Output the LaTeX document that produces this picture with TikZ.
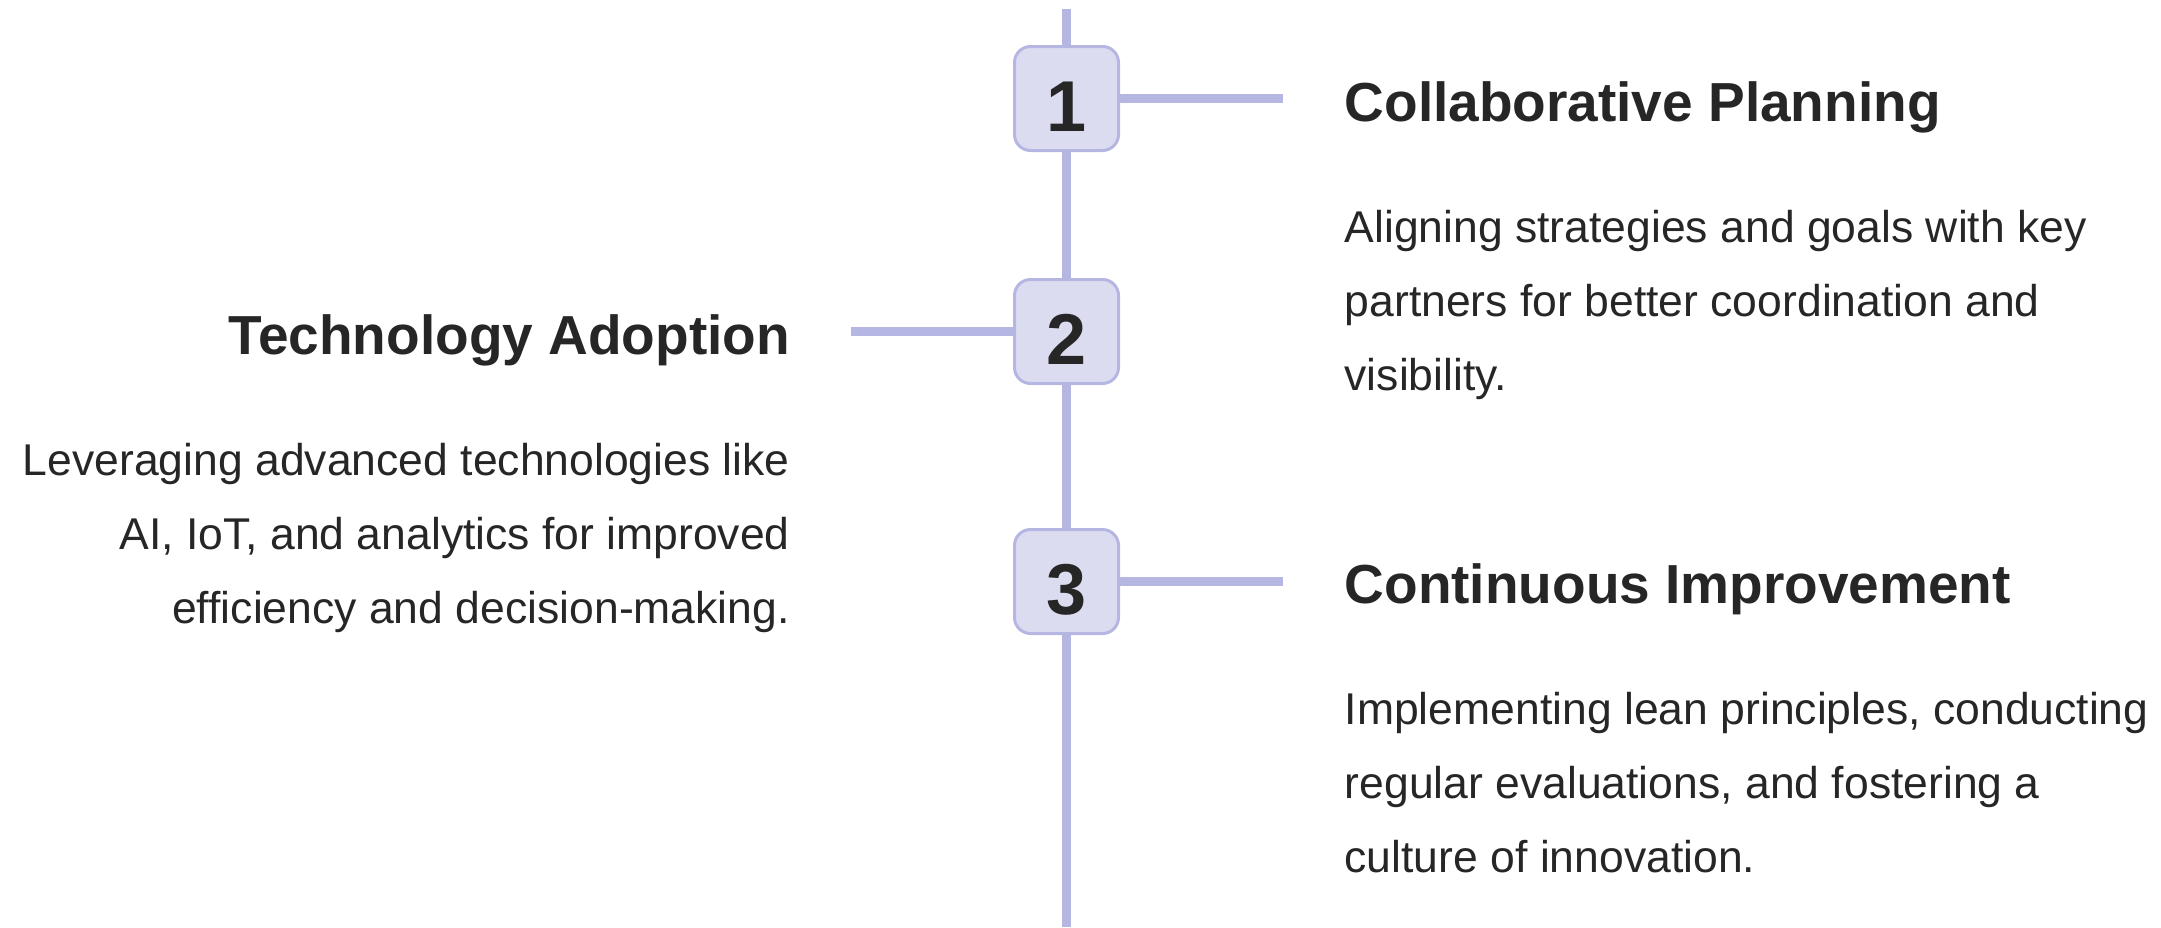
\documentclass[tikz,border=0pt]{standalone}
\usepackage{fontspec}
\setmainfont{Liberation Sans}
\usepackage{tikz}

\definecolor{stemline}{HTML}{B5B7E2}
\definecolor{stepfill}{HTML}{DCDCF1}
\definecolor{inktext}{HTML}{262626}

\tikzset{
    numbox/.style = {draw = stemline, fill = stepfill, line width = 3pt, rounded corners = 16pt, minimum size = 104pt, inner sep = 0pt, text = inktext, text height = 65.5pt, text depth = 0pt, font = \fontsize{72}{72}\selectfont\bfseries},
    heading/.style = {inner sep = 0pt, text = inktext, font = \fontsize{55}{66}\selectfont\bfseries},
    blurb/.style = {inner sep = 0pt, text = inktext, font = \fontsize{44.5}{74}\selectfont},
    branch/.style = {draw = stemline, line width = 9pt}
}

\begin{document}
\begin{tikzpicture}[x = 1pt, y = -1pt]
        \def\stemx{1066.5}
        \def\rightx{1344.5}
        \def\leftx{790}
        \useasboundingbox (0, 0) rectangle (2161, 927);

        % the stem goes first so the boxes sit on top of it
        \coordinate (stemtop) at (\stemx, 9);
        \coordinate (stembot) at (\stemx, 927);
        \draw[branch] (stemtop) -- (stembot);

        \node[numbox] (step1) at (\stemx, 98.5){1};
        \node[numbox] (step2) at (\stemx, 331.5){2};
        \node[numbox] (step3) at (\stemx, 581.5){3};

        \coordinate (tip1) at (1283, 98.5);
        \coordinate (tip2) at (851, 331.5);
        \coordinate (tip3) at (1283, 581.5);

        \draw[branch] (step1) -- (tip1);
        \draw[branch] (step2) -- (tip2);
        \draw[branch] (step3) -- (tip3);

        % the base of a three line blurb is the baseline of its last line
        \node[heading, anchor = base west] (head1) at (\rightx, 121){Collaborative Planning};
        \node[blurb, anchor = base west, align = left] (text1) at (\rightx, 390){
            Aligning strategies and goals with key\\
            partners for better coordination and\\
            visibility.
        };

        \node[heading, anchor = base east] (head2) at (\leftx, 354){Technology Adoption};
        \node[blurb, anchor = base east, align = right] (text2) at (\leftx, 623){
            Leveraging advanced technologies like\\
            AI, IoT, and analytics for improved\\
            efficiency and decision-making.
        };

        \node[heading, anchor = base west] (head3) at (\rightx, 603){Continuous Improvement};
        \node[blurb, anchor = base west, align = left] (text3) at (\rightx, 872){
            Implementing lean principles, conducting\\
            regular evaluations, and fostering a\\
            culture of innovation.
        };
\end{tikzpicture}
\end{document}
